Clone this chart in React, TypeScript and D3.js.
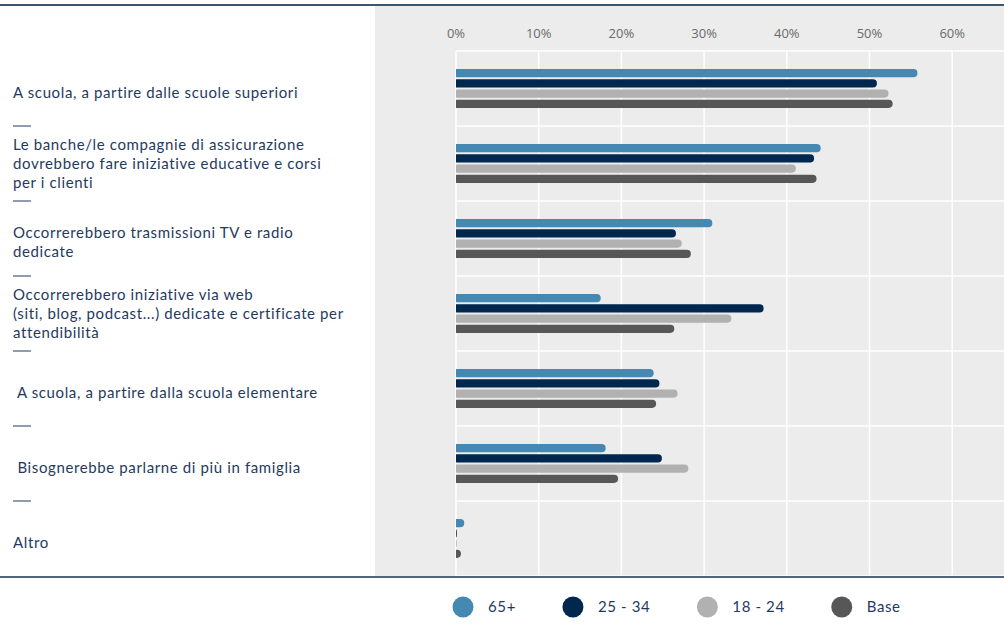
import React from "react";
import * as d3 from "d3";

const categories: string[][] = [
  ["A scuola, a partire dalle scuole superiori"],
  ["Le banche/le compagnie di assicurazione", "dovrebbero fare iniziative educative e corsi", "per i clienti"],
  ["Occorrerebbero trasmissioni TV e radio", "dedicate"],
  ["Occorrerebbero iniziative via web", "(siti, blog, podcast...) dedicate e certificate per", "attendibilità"],
  [" A scuola, a partire dalla scuola elementare"],
  [" Bisognerebbe parlarne di più in famiglia"],
  ["Altro"],
];
const seriesNames = ["65+", "25 - 34", "18 - 24", "Base"];
const seriesColors = ["#4589b2", "#00284f", "#b1b1b1", "#575757"];
const v65 = [55.8, 44.1, 31.0, 17.5, 23.9, 18.1, 1.0];
const v2534 = [50.9, 43.3, 26.6, 37.2, 24.6, 24.9, 0.1];
const v1824 = [52.3, 41.1, 27.3, 33.3, 26.8, 28.1, 0.1];
const vBase = [52.8, 43.6, 28.4, 26.4, 24.2, 19.6, 0.6];
const seriesValues = [v65, v2534, v1824, vBase];
const ticks = [0, 10, 20, 30, 40, 50, 60];

const W = 1004;
const H = 628;
const LABEL_FONT = "Lato, sans-serif";
const TEXT_COLOR = "#1f3a5f";
const LS = 0.62;

function measure(text: string, font: string): number {
  const c = document.createElement("canvas");
  const ctx = c.getContext("2d")!;
  ctx.font = font;
  return ctx.measureText(text).width + LS * text.length;
}

function barPath(x0: number, x1: number, y: number, h: number): string {
  const w = x1 - x0;
  if (w <= 0.5) return `M${x0},${y}h1v${h}h-1z`;
  const r = Math.min(h / 2, w);
  return `M${x0},${y}H${x1 - r}A${r},${h / 2} 0 0 1 ${x1},${y + h / 2}A${r},${h / 2} 0 0 1 ${x1 - r},${y + h}H${x0}Z`;
}

export default function App() {
  document.body.style.margin = "0";
  const panelX = 375;
  const top = 51;
  const bottom = 576;
  const x = d3.scaleLinear().domain([0, 10]).range([456, 538.7]);
  const y0 = d3.scaleBand<number>().domain(d3.range(categories.length)).range([top, bottom]);
  const step = y0.bandwidth();
  const groupH = 38.8;
  const y1 = d3.scaleBand<number>().domain(d3.range(seriesNames.length)).range([0, groupH]).paddingInner(0.2);
  const lh = 19;

  const legendFont = `15px ${LABEL_FONT}`;
  let lx = 463;
  const legendItems = seriesNames.map((n, i) => {
    const cx = lx;
    const tw = measure(n, legendFont);
    lx = cx + 25 + tw + 57;
    return { n, cx, color: seriesColors[i] };
  });

  return (
    <svg width={W} height={H} style={{ display: "block", position: "absolute", left: 0, top: 0, background: "#fff" }}>
      <rect x={panelX} y={6} width={W - panelX} height={bottom - 6} fill="#ececec" />
      <line x1={0} x2={W} y1={5} y2={5} stroke="#3d5670" strokeWidth={2} />
      {ticks.map((t) => (
        <line key={"v" + t} x1={x(t)} x2={x(t)} y1={top} y2={bottom} stroke="#ffffff" strokeWidth={1.5} />
      ))}
      {d3.range(categories.length + 1).map((i) => (
        <line key={"h" + i} x1={x(0)} x2={W} y1={top + i * step} y2={top + i * step} stroke="#ffffff" strokeWidth={1.5} />
      ))}
      {ticks.map((t) => (
        <text key={"t" + t} x={x(t)} y={38} textAnchor="middle" fontFamily="'Open Sans', sans-serif" fontSize={13} fill="#6a6a6a">
          {t}%
        </text>
      ))}
      {categories.map((_, ci) =>
        seriesValues.map((vals, si) => {
          const yy = (y0(ci) as number) + step / 2 - groupH / 2 + (y1(si) as number);
          return <path key={ci + "-" + si} d={barPath(x(0), x(vals[ci]), yy, y1.bandwidth())} fill={seriesColors[si]} />;
        })
      )}
      {categories.map((lines, ci) => {
        const cy = (y0(ci) as number) + step / 2;
        const off = lines.length < 3 ? 4 : 0.5;
        const firstY = cy - ((lines.length - 1) * lh) / 2 + off + 5;
        return (
          <text key={"c" + ci} fontFamily={LABEL_FONT} fontSize={15} letterSpacing={LS} fill={TEXT_COLOR} style={{ whiteSpace: "pre" }}>
            {lines.map((l, li) => (
              <tspan key={li} x={13} y={firstY + li * lh}>
                {l}
              </tspan>
            ))}
          </text>
        );
      })}
      {d3.range(1, categories.length).map((i) => (
        <line key={"s" + i} x1={13} x2={31} y1={top + i * step} y2={top + i * step} stroke={TEXT_COLOR} strokeWidth={1} />
      ))}
      <line x1={0} x2={W} y1={577} y2={577} stroke="#1a2f4f" strokeWidth={1.5} />
      {legendItems.map((it) => (
        <g key={it.n}>
          <circle cx={it.cx} cy={607} r={10.5} fill={it.color} />
          <text x={it.cx + 25} y={612} fontFamily={LABEL_FONT} fontSize={15} letterSpacing={LS} fill={TEXT_COLOR}>
            {it.n}
          </text>
        </g>
      ))}
    </svg>
  );
}
